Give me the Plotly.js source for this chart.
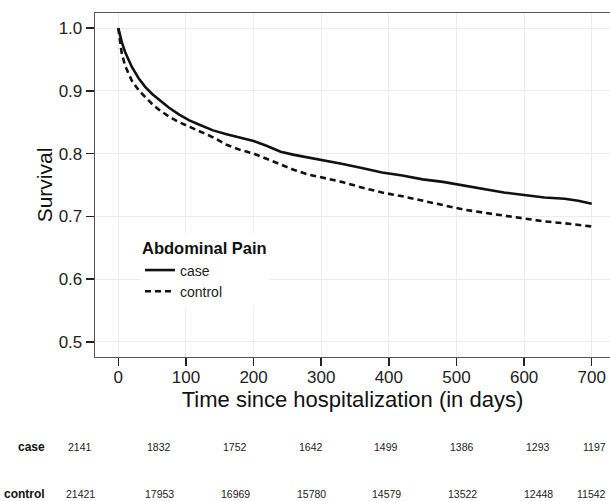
<!DOCTYPE html>
<html>
<head>
<meta charset="utf-8">
<script src="https://cdn.plot.ly/plotly-3.0.1.min.js"></script>
<style>html,body{margin:0;padding:0;background:#fff;}#chart{width:610px;height:501px;}</style>
</head>
<body>
<div id="chart"></div>
<script>
// Survival curves
const timeDays = [0, 5, 10, 20, 30, 40, 50, 60, 75, 90, 105, 120, 140, 160, 180, 200, 220, 240, 260, 280, 300, 330, 360, 390, 420, 450, 480, 510, 540, 570, 600, 630, 660, 680, 700];
const caseSurv = [1.000, 0.978, 0.962, 0.938, 0.920, 0.906, 0.895, 0.886, 0.873, 0.862, 0.853, 0.846, 0.837, 0.831, 0.826, 0.820, 0.812, 0.803, 0.798, 0.794, 0.791, 0.784, 0.777, 0.770, 0.765, 0.759, 0.755, 0.749, 0.744, 0.738, 0.734, 0.730, 0.728, 0.725, 0.720];
const controlSurv = [1.000, 0.960, 0.940, 0.916, 0.901, 0.890, 0.879, 0.870, 0.859, 0.850, 0.843, 0.836, 0.826, 0.814, 0.806, 0.800, 0.791, 0.782, 0.774, 0.767, 0.762, 0.755, 0.746, 0.738, 0.732, 0.725, 0.718, 0.711, 0.706, 0.701, 0.697, 0.692, 0.689, 0.686, 0.684];

// Number-at-risk table
const riskTimes = [0, 100, 200, 300, 400, 500, 600, 700];
const riskGroups = ["case", "control"];
const caseAtRisk = [2141, 1832, 1752, 1642, 1499, 1386, 1293, 1197];
const controlAtRisk = [21421, 17953, 16969, 15780, 14579, 13522, 12448, 11542];

const xTicks = [0, 100, 200, 300, 400, 500, 600, 700];
const yTicks = [0.5, 0.6, 0.7, 0.8, 0.9, 1.0];

const FONT = "Liberation Sans, Arial, Helvetica, sans-serif";

const traces = [
  {x: timeDays, y: caseSurv, name: "case", type: "scatter", mode: "lines",
   line: {color: "#111", width: 2.6, dash: "solid"}},
  {x: timeDays, y: controlSurv, name: "control", type: "scatter", mode: "lines",
   line: {color: "#111", width: 2.6, dash: "6px,4px"}}
];

// table layout (pixel geometry of the risk table)
const L = 95, W = 515;
const colPx = [80, 159, 235, 311, 386, 462, 538, 608];
const rowY = [447, 494];
const H = 501, T = 13, B = 144, PH = H - T - B;
const annotations = [];
const rows = [caseAtRisk, controlAtRisk];
rows.forEach((vals, r) => {
  const yp = (H - B - rowY[r]) / PH;
  annotations.push({xref: "paper", yref: "paper", x: (47 - L) / W, y: yp,
    xanchor: "right", yanchor: "middle", showarrow: false,
    text: "<b>" + riskGroups[r] + "</b>", font: {family: FONT, size: 12, color: "#111"}});
  vals.forEach((v, i) => {
    const last = i === vals.length - 1;
    annotations.push({xref: "paper", yref: "paper", x: (colPx[i] - L) / W, y: yp,
      xanchor: last ? "right" : "center", yanchor: "middle", showarrow: false,
      text: String(v), font: {family: FONT, size: 10.5, color: "#222"}});
  });
});

const layout = {
  width: 610, height: 501,
  margin: {l: L, r: 0, t: T, b: B},
  paper_bgcolor: "#fff", plot_bgcolor: "#fff",
  font: {family: FONT, color: "#222"},
  showlegend: true,
  legend: {
    x: (140 - L) / W, y: (H - B - 233) / PH, xanchor: "left", yanchor: "top",
    bgcolor: "#fff", borderwidth: 0,
    title: {text: "<b>Abdominal Pain</b>", font: {family: FONT, size: 16.5, color: "#111"}},
    font: {family: FONT, size: 14, color: "#222"},
    tracegroupgap: 0, itemwidth: 30
  },
  xaxis: {
    range: [-34.5, 727], tickvals: xTicks, ticktext: xTicks.map(String),
    showgrid: true, gridcolor: "#ebebeb", gridwidth: 1, zeroline: false,
    showline: true, linecolor: "#555", linewidth: 1.3, mirror: true,
    ticks: "outside", ticklen: 8, tickwidth: 1.5, tickcolor: "#222",
    ticklabelstandoff: -4,
    tickfont: {family: FONT, size: 17, color: "#222"},
    title: {text: "Time since hospitalization (in days)", font: {family: FONT, size: 22, color: "#111"}, standoff: 0},
    automargin: false
  },
  yaxis: {
    range: [0.476, 1.024], tickvals: yTicks, ticktext: yTicks.map(v => v.toFixed(1)),
    showgrid: true, gridcolor: "#ebebeb", gridwidth: 1, zeroline: false,
    showline: true, linecolor: "#555", linewidth: 1.3, mirror: true,
    ticks: "outside", ticklen: 8, tickwidth: 1.5, tickcolor: "#222",
    tickfont: {family: FONT, size: 17, color: "#222"},
    title: {text: "Survival", font: {family: FONT, size: 21, color: "#111"}, standoff: 0},
    automargin: false
  },
  annotations: annotations
};

Plotly.newPlot("chart", traces, layout, {displayModeBar: false, staticPlot: true});
</script>
</body>
</html>
